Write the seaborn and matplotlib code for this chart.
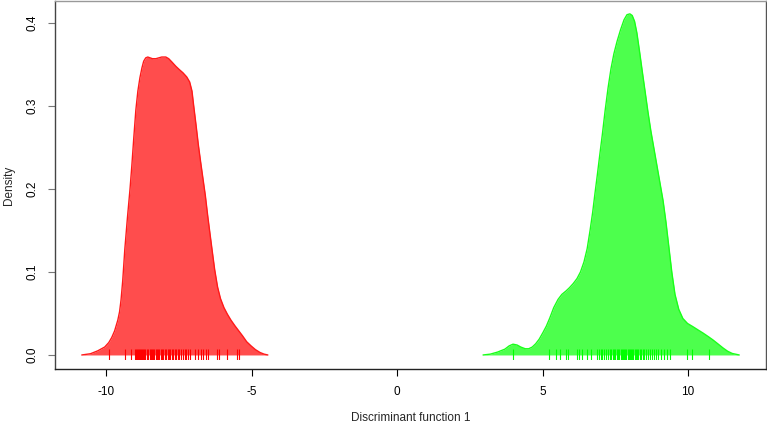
import matplotlib
matplotlib.use("Agg")
import matplotlib.pyplot as plt
import seaborn as sns
import numpy as np
import pandas as pd

# Density curve of group 1 (red)
red_x = [-10.85, -10.55, -10.30, -10.06, -9.92, -9.82, -9.72, -9.61, -9.55, -9.50,
         -9.44, -9.37, -9.28, -9.19, -9.13, -9.06, -8.99, -8.92, -8.85, -8.78,
         -8.72, -8.65, -8.58, -8.50, -8.42, -8.30, -8.20, -8.10, -7.96, -7.86,
         -7.75, -7.62, -7.50, -7.37, -7.24, -7.14, -7.06, -7.00, -6.92, -6.84,
         -6.76, -6.68, -6.60, -6.52, -6.44, -6.37, -6.28, -6.18, -6.08, -5.96,
         -5.84, -5.72, -5.58, -5.45, -5.32, -5.18, -5.03, -4.88, -4.72, -4.58, -4.45]
red_d = [0.0, 0.0015, 0.005, 0.0096, 0.015, 0.021, 0.029, 0.042, 0.052, 0.066,
         0.090, 0.127, 0.165, 0.200, 0.227, 0.262, 0.295, 0.318, 0.334, 0.346,
         0.354, 0.358, 0.359, 0.358, 0.357, 0.357, 0.358, 0.359, 0.359, 0.357,
         0.353, 0.348, 0.344, 0.340, 0.335, 0.329, 0.318, 0.300, 0.277, 0.253,
         0.232, 0.212, 0.192, 0.168, 0.146, 0.127, 0.103, 0.082, 0.068, 0.057,
         0.049, 0.042, 0.035, 0.029, 0.023, 0.016, 0.011, 0.0065, 0.003, 0.001, 0.0]

# Density curve of group 2 (green)
green_x = [2.95, 3.20, 3.45, 3.70, 3.85, 3.98, 4.12, 4.25, 4.40, 4.52,
           4.64, 4.76, 4.88, 5.01, 5.13, 5.25, 5.38, 5.53, 5.66, 5.80,
           5.92, 6.05, 6.18, 6.30, 6.42, 6.53, 6.63, 6.72, 6.80, 6.88,
           6.96, 7.05, 7.15, 7.25, 7.35, 7.45, 7.56, 7.68, 7.80, 7.90,
           8.00, 8.08, 8.16, 8.24, 8.33, 8.42, 8.52, 8.62, 8.72, 8.82,
           8.93, 9.04, 9.14, 9.24, 9.34, 9.44, 9.55, 9.68, 9.82, 9.98,
           10.17, 10.35, 10.51, 10.70, 10.86, 11.04, 11.20, 11.36, 11.52, 11.76]
green_d = [0.0, 0.001, 0.0035, 0.007, 0.011, 0.013, 0.012, 0.0095, 0.0075, 0.0075,
           0.0095, 0.0135, 0.019, 0.027, 0.035, 0.045, 0.057, 0.067, 0.073, 0.077,
           0.081, 0.086, 0.092, 0.100, 0.112, 0.128, 0.150, 0.172, 0.195, 0.217,
           0.240, 0.265, 0.295, 0.322, 0.345, 0.363, 0.378, 0.392, 0.404, 0.410,
           0.411, 0.409, 0.402, 0.388, 0.366, 0.343, 0.318, 0.293, 0.270, 0.250,
           0.228, 0.206, 0.186, 0.160, 0.130, 0.100, 0.073, 0.055, 0.044, 0.038,
           0.034, 0.030, 0.0265, 0.022, 0.018, 0.013, 0.0085, 0.0045, 0.0018, 0.0]

# Rug (individual discriminant scores)
red_rug = [-9.90, -9.37, -9.16, -9.02, -8.98, -8.95, -8.92, -8.88, -8.85, -8.81,
           -8.78, -8.74, -8.70, -8.66, -8.61, -8.57, -8.52, -8.48, -8.44, -8.40,
           -8.35, -8.31, -8.27, -8.22, -8.18, -8.13, -8.09, -8.04, -8.00, -7.95,
           -7.90, -7.86, -7.81, -7.76, -7.71, -7.66, -7.60, -7.55, -7.49, -7.43,
           -7.37, -7.31, -7.25, -7.19, -7.13, -6.96, -6.84, -6.76, -6.67, -6.58,
           -6.50, -6.21, -6.13, -5.87, -5.52, -5.43]
green_rug = [3.99, 5.23, 5.46, 5.60, 5.81, 5.88, 6.19, 6.26, 6.35, 6.52,
             6.65, 6.86, 6.92, 7.00, 7.05, 7.12, 7.18, 7.25, 7.30, 7.36,
             7.41, 7.46, 7.50, 7.55, 7.60, 7.64, 7.68, 7.72, 7.76, 7.80,
             7.84, 7.88, 7.92, 7.96, 8.00, 8.04, 8.08, 8.12, 8.16, 8.20,
             8.24, 8.29, 8.34, 8.39, 8.44, 8.50, 8.56, 8.62, 8.68, 8.75,
             8.82, 8.90, 8.98, 9.07, 9.16, 9.26, 9.38, 9.98, 10.13, 10.73]

x_ticks = [-10, -5, 0, 5, 10]
y_ticks = [0.0, 0.1, 0.2, 0.3, 0.4]

sns.set_style("white")
plt.rcParams['font.family'] = ['Liberation Sans', 'DejaVu Sans']

fig = plt.figure(figsize=(7.67, 4.23), dpi=100)
ax = fig.add_axes([55/767, 1 - 369/423, 711/767, 368/423])

red_fill = (1.0, 0.30, 0.30)
green_fill = (0.30, 1.0, 0.30)

red_df = pd.DataFrame({"x": red_x, "d": red_d})
green_df = pd.DataFrame({"x": green_x, "d": green_d})

ax.fill_between(red_df["x"], red_df["d"], 0, color=red_fill, linewidth=0, zorder=1)
ax.fill_between(green_df["x"], green_df["d"], 0, color=green_fill, linewidth=0, zorder=1)
sns.lineplot(data=red_df, x="x", y="d", ax=ax, color="#ff1a1a", linewidth=1.0,
             sort=False, estimator=None, zorder=2)
sns.lineplot(data=green_df, x="x", y="d", ax=ax, color="#1aff1a", linewidth=1.0,
             sort=False, estimator=None, zorder=2)

ax.set_xlim(-11.77, 12.68)
ax.set_ylim(-0.0169, 0.4265)
ax.set_xticks(x_ticks)
ax.set_xticklabels([str(t) for t in x_ticks])
ax.set_yticks(y_ticks)
ax.set_yticklabels([f"{t:.1f}" for t in y_ticks], rotation=90, va="center")
ax.tick_params(axis="both", direction="out", length=5, width=0.8, labelsize=8.5,
               pad=7, bottom=True, left=True, colors="black")
ax.tick_params(axis="y", color="#777777")
ax.set_xlabel("Discriminant function 1", fontsize=8.5)
ax.set_ylabel("Density", fontsize=8.5)
ax.xaxis.set_label_coords(0.5, (369 - 418) / 368)
ax.xaxis.label.set_va("center")
ax.yaxis.set_label_coords((9 - 55) / 711, 0.5)
ax.yaxis.label.set_va("center")

for side, col in [("left", "#444444"), ("bottom", "#222222"),
                  ("top", "#999999"), ("right", "#555555")]:
    ax.spines[side].set_visible(True)
    ax.spines[side].set_color(col)
    ax.spines[side].set_linewidth(1.0)

# Rug drawn in a thin strip just above the x axis
rax = ax.inset_axes([0, 9/368, 1, 11/368], sharex=ax)
rax.set_facecolor("none")
rax.patch.set_alpha(0)
sns.rugplot(x=red_rug, ax=rax, height=1.0, color="red", linewidth=0.8, expand_margins=False)
sns.rugplot(x=green_rug, ax=rax, height=1.0, color="#00ff00", linewidth=0.8, expand_margins=False)
rax.set_ylim(0, 1)
rax.axis("off")

fig.savefig("out.png", dpi=100)
